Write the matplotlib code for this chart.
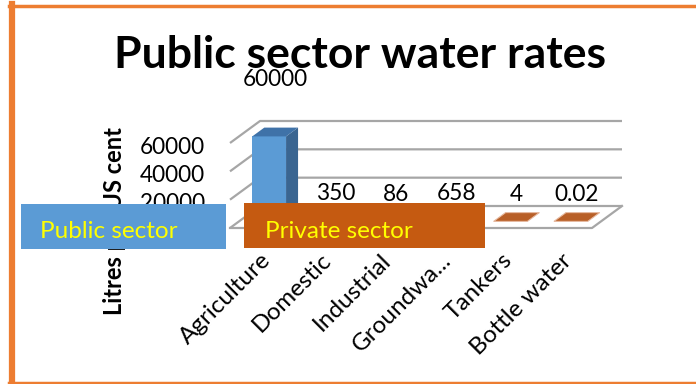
import matplotlib
matplotlib.use("Agg")
import matplotlib.pyplot as plt
from matplotlib.patches import Polygon, Rectangle
import numpy as np

# data
categories = ["Agriculture", "Domestic", "Industrial", "Groundwa...", "Tankers", "Bottle water"]
public_vals = [60000, 350, 86, 658, None, None]
private_vals = [None, None, None, None, 4, 0.02]
label_text = ["60000", "350", "86", "658", "4", "0.02"]
y_ticks = [0, 20000, 40000, 60000]
y_tick_labels = ["0", "20000", "40000", "60000"]

FONT = "Lato"
W, H = 696, 384
fig = plt.figure(figsize=(W / 100, H / 100), dpi=100)

# front plane of the pseudo-3D box, in pixel units from top-left
x0, x1 = 230, 592
yb, yt = 228, 143
ax = fig.add_axes([x0 / W, 1 - yb / H, (x1 - x0) / W, (yb - yt) / H])
ax.set_xlim(0, 6)
ax.set_ylim(0, 60000)
ax.axis("off")

# depth offset (data units) for the back wall
px_x = 6 / (x1 - x0)
px_y = 60000 / (yb - yt)
DX, DY = 30 * px_x, 22 * px_y

grid_c = "#A6A6A6"
for v in y_ticks:
    ax.plot([0, DX, 6 + DX], [v, v + DY, v + DY], color=grid_c, lw=1.6,
            clip_on=False, zorder=1, solid_capstyle="butt")
# floor
ax.plot([0, 6, 6 + DX], [0, 0, DY], color=grid_c, lw=1.6, clip_on=False, zorder=1)

d0, d1 = 0.3, 0.7
bw = 0.56


def draw_bar(i, val, front, side, top, edge=None):
    cx = i + 0.5
    xl, xr = cx - bw / 2 + d0 * DX, cx + bw / 2 + d0 * DX
    yb0 = d0 * DY
    ddx, ddy = (d1 - d0) * DX, (d1 - d0) * DY
    yv = yb0 + val
    if val > 1000:
        ax.add_patch(Polygon([(xl, yb0), (xr, yb0), (xr, yv), (xl, yv)],
                             closed=True, fc=front, ec="none", clip_on=False, zorder=3))
        ax.add_patch(Polygon([(xr, yb0), (xr + ddx, yb0 + ddy), (xr + ddx, yv + ddy), (xr, yv)],
                             closed=True, fc=side, ec="none", clip_on=False, zorder=3))
    ax.add_patch(Polygon([(xl, yv), (xr, yv), (xr + ddx, yv + ddy), (xl + ddx, yv + ddy)],
                         closed=True, fc=top, ec=edge if edge else "none", lw=0.8,
                         clip_on=False, zorder=3))


for i, v in enumerate(public_vals):
    if v is not None:
        draw_bar(i, v, "#5B9BD5", "#3A6591", "#3F72A8")
for i, v in enumerate(private_vals):
    if v is not None:
        draw_bar(i, v, "#C55A11", "#8F410C", "#B85F27", edge="#E6B9A0")

# data labels
for i, txt in enumerate(label_text):
    v = public_vals[i] if public_vals[i] is not None else private_vals[i]
    off = 27 + v * 30 / 60000
    ax.annotate(txt, (i + 0.5 + 0.5 * DX, d0 * DY + v), xytext=(0, off),
                textcoords="offset pixels", ha="center", va="center",
                fontsize=16.3, family=FONT, color="black", zorder=5,
                annotation_clip=False)

# y tick labels
for v, t in zip(y_ticks, y_tick_labels):
    ax.annotate(t, (0, v), xytext=(-25, -4), textcoords="offset pixels",
                ha="right", va="center", fontsize=16.3, family=FONT,
                annotation_clip=False, zorder=2)

# x labels
for i, c in enumerate(categories):
    ax.annotate(c, (i + 0.5, 0), xytext=(7, -29), textcoords="offset pixels",
                ha="right", va="center", rotation=45, rotation_mode="anchor",
                fontsize=17.5, family=FONT, annotation_clip=False)

# axis title
fig.text(115 / W, 1 - 221 / H, "Litres per US cent", rotation=90, ha="center",
         va="center", fontsize=17, fontweight="bold", family=FONT)

# chart title
fig.text(360 / W, 1 - 55 / H, "Public sector water rates", ha="center",
         va="center", fontsize=32, fontweight="bold", family=FONT)

# legend boxes
fig.patches.append(Rectangle((21 / W, 1 - 249 / H), 205 / W, 45 / H,
                             transform=fig.transFigure, fc="#5B9BD5", ec="none", zorder=10))
fig.patches.append(Rectangle((244 / W, 1 - 248 / H), 241 / W, 45 / H,
                             transform=fig.transFigure, fc="#C55A11", ec="none", zorder=10))
fig.text(40 / W, 1 - 232 / H, "Public sector", ha="left", va="center",
         fontsize=17.5, family=FONT, color="#FFFF00", zorder=11)
fig.text(265 / W, 1 - 231 / H, "Private sector", ha="left", va="center",
         fontsize=17.5, family=FONT, color="#FFFF00", zorder=11)

# orange frame
oc = "#ED7D31"
fig.add_artist(plt.Line2D([11.5 / W, 11.5 / W], [0, 1 - 4 / H], color=oc, lw=4.5,
                          transform=fig.transFigure))
fig.add_artist(plt.Line2D([9 / W, 1], [1 - 5.5 / H, 1 - 5.5 / H], color=oc, lw=2.5,
                          transform=fig.transFigure))
fig.add_artist(plt.Line2D([9 / W, 1], [1 - 382.5 / H, 1 - 382.5 / H], color=oc, lw=2.5,
                          transform=fig.transFigure))

fig.savefig("out.png", dpi=100)
